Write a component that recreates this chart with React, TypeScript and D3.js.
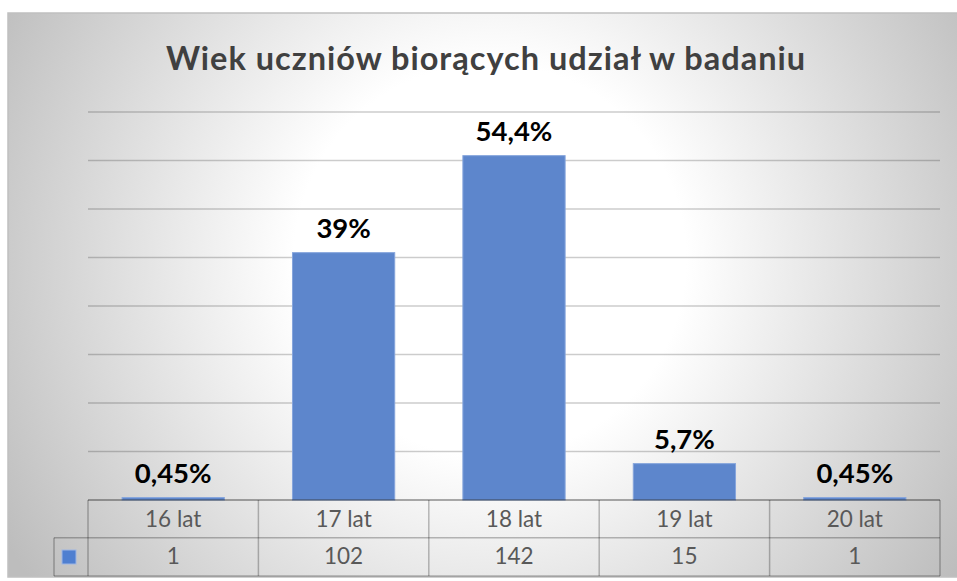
import React from "react";
import * as d3 from "d3";

const title = "Wiek uczniów biorących udział w badaniu";
const categories = ["16 lat", "17 lat", "18 lat", "19 lat", "20 lat"];
const counts = [1, 102, 142, 15, 1];
const percentLabels = ["0,45%", "39%", "54,4%", "5,7%", "0,45%"];
const gridTicks = [20, 40, 60, 80, 100, 120, 140, 160];

const W = 957;
const H = 581;
const plotLeft = 88;
const plotRight = 940;
const plotTop = 112;
const plotBottom = 500;
const rowMid = 537.7;
const tableBottom = 576;
const legendLeft = 54;
const FONT = "Lato, 'Open Sans', sans-serif";

export default function App() {
  const x = d3
    .scaleBand<string>()
    .domain(categories)
    .range([plotLeft, plotRight])
    .paddingInner(0.4)
    .paddingOuter(0.2);
  const y = d3.scaleLinear().domain([0, 160]).range([plotBottom, plotTop]);
  const step = (plotRight - plotLeft) / categories.length;
  const colEdges = d3.range(categories.length + 1).map((i) => plotLeft + i * step);
  const tableLine = "rgba(0,0,0,0.26)";

  return (
    <svg
      width={W}
      height={H}
      style={{ position: "absolute", left: 0, top: 0, background: "#ffffff" }}
    >
      <defs>
        <radialGradient id="bg" gradientUnits="userSpaceOnUse" cx={490} cy={260} r={560}>
          <stop offset="0" stopColor="#ffffff" />
          <stop offset="0.35" stopColor="#ffffff" />
          <stop offset="1" stopColor="#bdbdbd" />
        </radialGradient>
      </defs>
      <rect x={8} y={13} width={W + 20} height={tableBottom + 1 - 13} fill="url(#bg)" stroke="#c0c0c0" strokeWidth={1.5} />

      <text
        x={486}
        y={70}
        textAnchor="middle"
        fontFamily={FONT}
        fontWeight={700}
        fontSize={32.5}
        letterSpacing={1}
        fill="#404040"
      >
        {title}
      </text>

      {gridTicks.map((t) => (
        <line key={t} x1={plotLeft} x2={plotRight} y1={y(t)} y2={y(t)} stroke="rgba(0,0,0,0.2)" strokeWidth={1.3} />
      ))}

      {categories.map((c, i) => (
        <rect
          key={c}
          x={x(c)}
          y={y(counts[i])}
          width={x.bandwidth()}
          height={plotBottom - y(counts[i])}
          fill="#5d86cc"
          stroke="#86a5dc"
          strokeWidth={1}
        />
      ))}

      {categories.map((c, i) => (
        <text
          key={c}
          x={(x(c) as number) + x.bandwidth() / 2}
          y={y(counts[i]) - 15}
          textAnchor="middle"
          fontFamily={FONT}
          fontWeight={700}
          fontSize={27.5}
          fill="#000000"
        >
          {percentLabels[i]}
        </text>
      ))}

      {/* data table */}
      <line x1={plotLeft} x2={plotRight} y1={plotBottom} y2={plotBottom} stroke="rgba(0,0,0,0.32)" strokeWidth={2} />
      <line x1={legendLeft} x2={plotRight} y1={rowMid} y2={rowMid} stroke={tableLine} strokeWidth={1.5} />
      <line x1={legendLeft} x2={plotRight} y1={tableBottom} y2={tableBottom} stroke={tableLine} strokeWidth={1.5} />
      <line x1={legendLeft} x2={legendLeft} y1={rowMid} y2={tableBottom} stroke={tableLine} strokeWidth={1.5} />
      {colEdges.map((cx, i) => (
        <line key={i} x1={cx} x2={cx} y1={plotBottom} y2={tableBottom} stroke={tableLine} strokeWidth={1.5} />
      ))}
      <rect x={62} y={550} width={14} height={14} fill="#4f7fd0" stroke="#9db6e4" strokeWidth={1} />

      {categories.map((c, i) => (
        <g key={c}>
          <text
            x={(x(c) as number) + x.bandwidth() / 2}
            y={527}
            textAnchor="middle"
            fontFamily={FONT}
            fontSize={22.5}
            fill="#595959"
          >
            {c}
          </text>
          <text
            x={(x(c) as number) + x.bandwidth() / 2}
            y={564}
            textAnchor="middle"
            fontFamily={FONT}
            fontSize={22.5}
            fill="#595959"
          >
            {counts[i]}
          </text>
        </g>
      ))}
    </svg>
  );
}
